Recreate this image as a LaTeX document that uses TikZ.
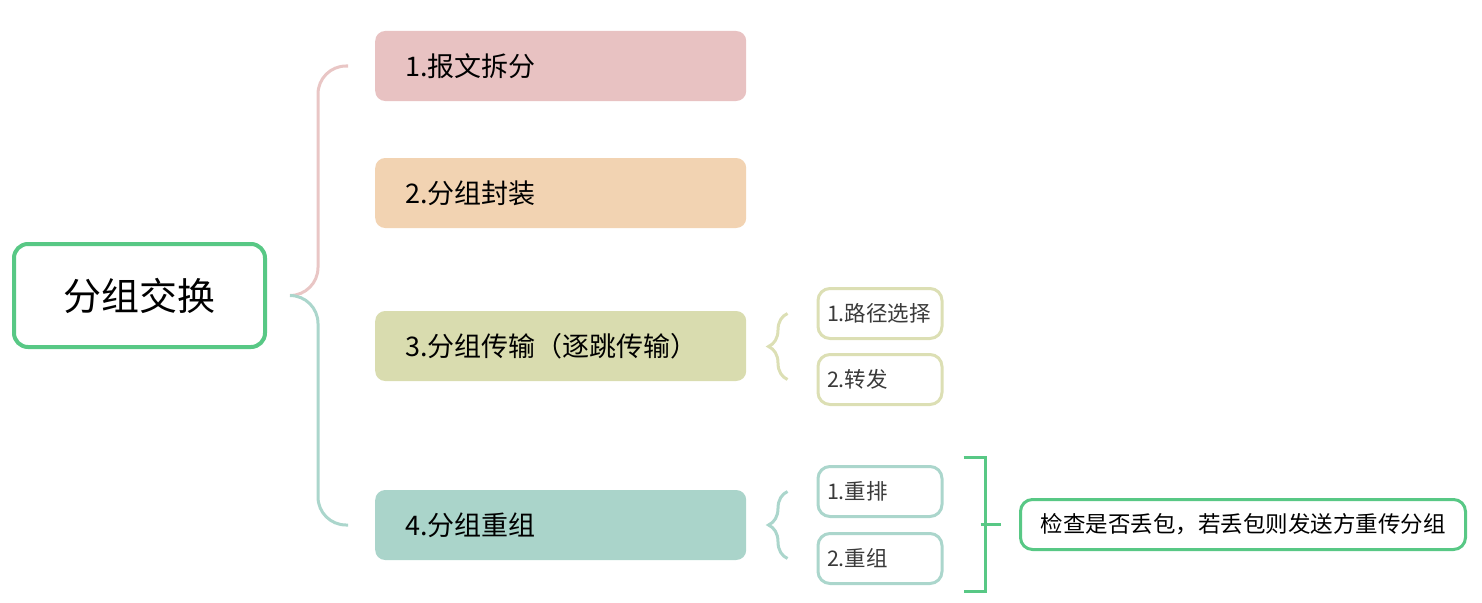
\documentclass[tikz,border=0pt]{standalone}
\usepackage{fontspec}
\setmainfont{Noto Sans CJK SC}
\usepackage{tikz}
\usetikzlibrary{calc,decorations.pathreplacing}
\definecolor{rootgreen}{HTML}{58C885}
\definecolor{pinkfill}{HTML}{E8C2C2}
\definecolor{orangefill}{HTML}{F2D3B2}
\definecolor{olivefill}{HTML}{D9DCAF}
\definecolor{tealfill}{HTML}{AAD4CA}
\definecolor{pinkline}{HTML}{E9C6C5}
\definecolor{tealline}{HTML}{ABD6CC}
\definecolor{oliveline}{HTML}{DCDFB4}
\definecolor{subtext}{HTML}{3A3A3A}
\tikzset{
  rootbox/.style={draw=rootgreen,line width=4pt,rounded corners=14pt,fill=white,
    minimum width=251,minimum height=103,font=\fontsize{38}{40}\selectfont},
  mainbox/.style={rounded corners=10pt,anchor=west,minimum height=70,
    text width=311,inner xsep=30,align=left,font=\fontsize{27}{30}\selectfont},
  subbox/.style={draw=#1,line width=3pt,fill=white,rounded corners=12pt,anchor=west,
    minimum height=50,text width=106,inner xsep=9,align=left,text=subtext,
    font=\fontsize{21.5}{24}\selectfont},
  notebox/.style={draw=rootgreen,line width=3pt,rounded corners=12pt,fill=white,
    minimum width=445,minimum height=50,font=\fontsize{22.5}{25}\selectfont},
  link/.style={line width=3pt,rounded corners=28pt},
  curly/.style={line width=3pt,decorate,decoration={brace,amplitude=19}}
}
\begin{document}
\begin{tikzpicture}[x=1pt,y=-1pt]
\useasboundingbox (0,0) rectangle (1482,602);
% root and main steps
\node[rootbox] (root) at (139.5,295.5) {分组交换};
\node[mainbox,fill=pinkfill] (m1) at (375,66) {1.报文拆分};
\node[mainbox,fill=orangefill] (m2) at (375,193) {2.分组封装};
\node[mainbox,fill=olivefill] (m3) at (375,346) {3.分组传输（逐跳传输）};
\node[mainbox,fill=tealfill] (m4) at (375,525) {4.分组重组};

\coordinate (fork) at ($(root.east)+(23,0)$);
\draw[link,pinkline] (fork) -| ($(m1.west)+(-57,0)$) -- ($(m1.west)+(-27,0)$);
\draw[link,tealline] (fork) -| ($(m4.west)+(-57,0)$) -- ($(m4.west)+(-27,0)$);

% sub steps of 3
\node[subbox=oliveline] (s31) at (816.5,313.5) {1.路径选择};
\node[subbox=oliveline] (s32) at (816.5,379.5) {2.转发};
\draw[curly,oliveline] ($(s32.west)+(-29,0)$) -- ($(s31.west)+(-29,0)$);

% sub steps of 4
\node[subbox=tealline] (s41) at (816.5,491.5) {1.重排};
\node[subbox=tealline] (s42) at (816.5,558.5) {2.重组};
\draw[curly,tealline] ($(s42.west)+(-29,0)$) -- ($(s41.west)+(-29,0)$);

% note on lost packets
\node[notebox] (note) at (1243,524.5) {检查是否丢包，若丢包则发送方重传分组};
\draw[line width=3pt,rootgreen] ($(s41.north east)+(20,-8)$) -| ($(s42.south east)+(41.5,6)$) -- ++(-21.5,0);
\coordinate (tick) at ($(note.west)+(-38.5,0)$);
\draw[line width=3pt,rootgreen] (tick) -- ($(note.west)+(-18,0)$);
\end{tikzpicture}
\end{document}
